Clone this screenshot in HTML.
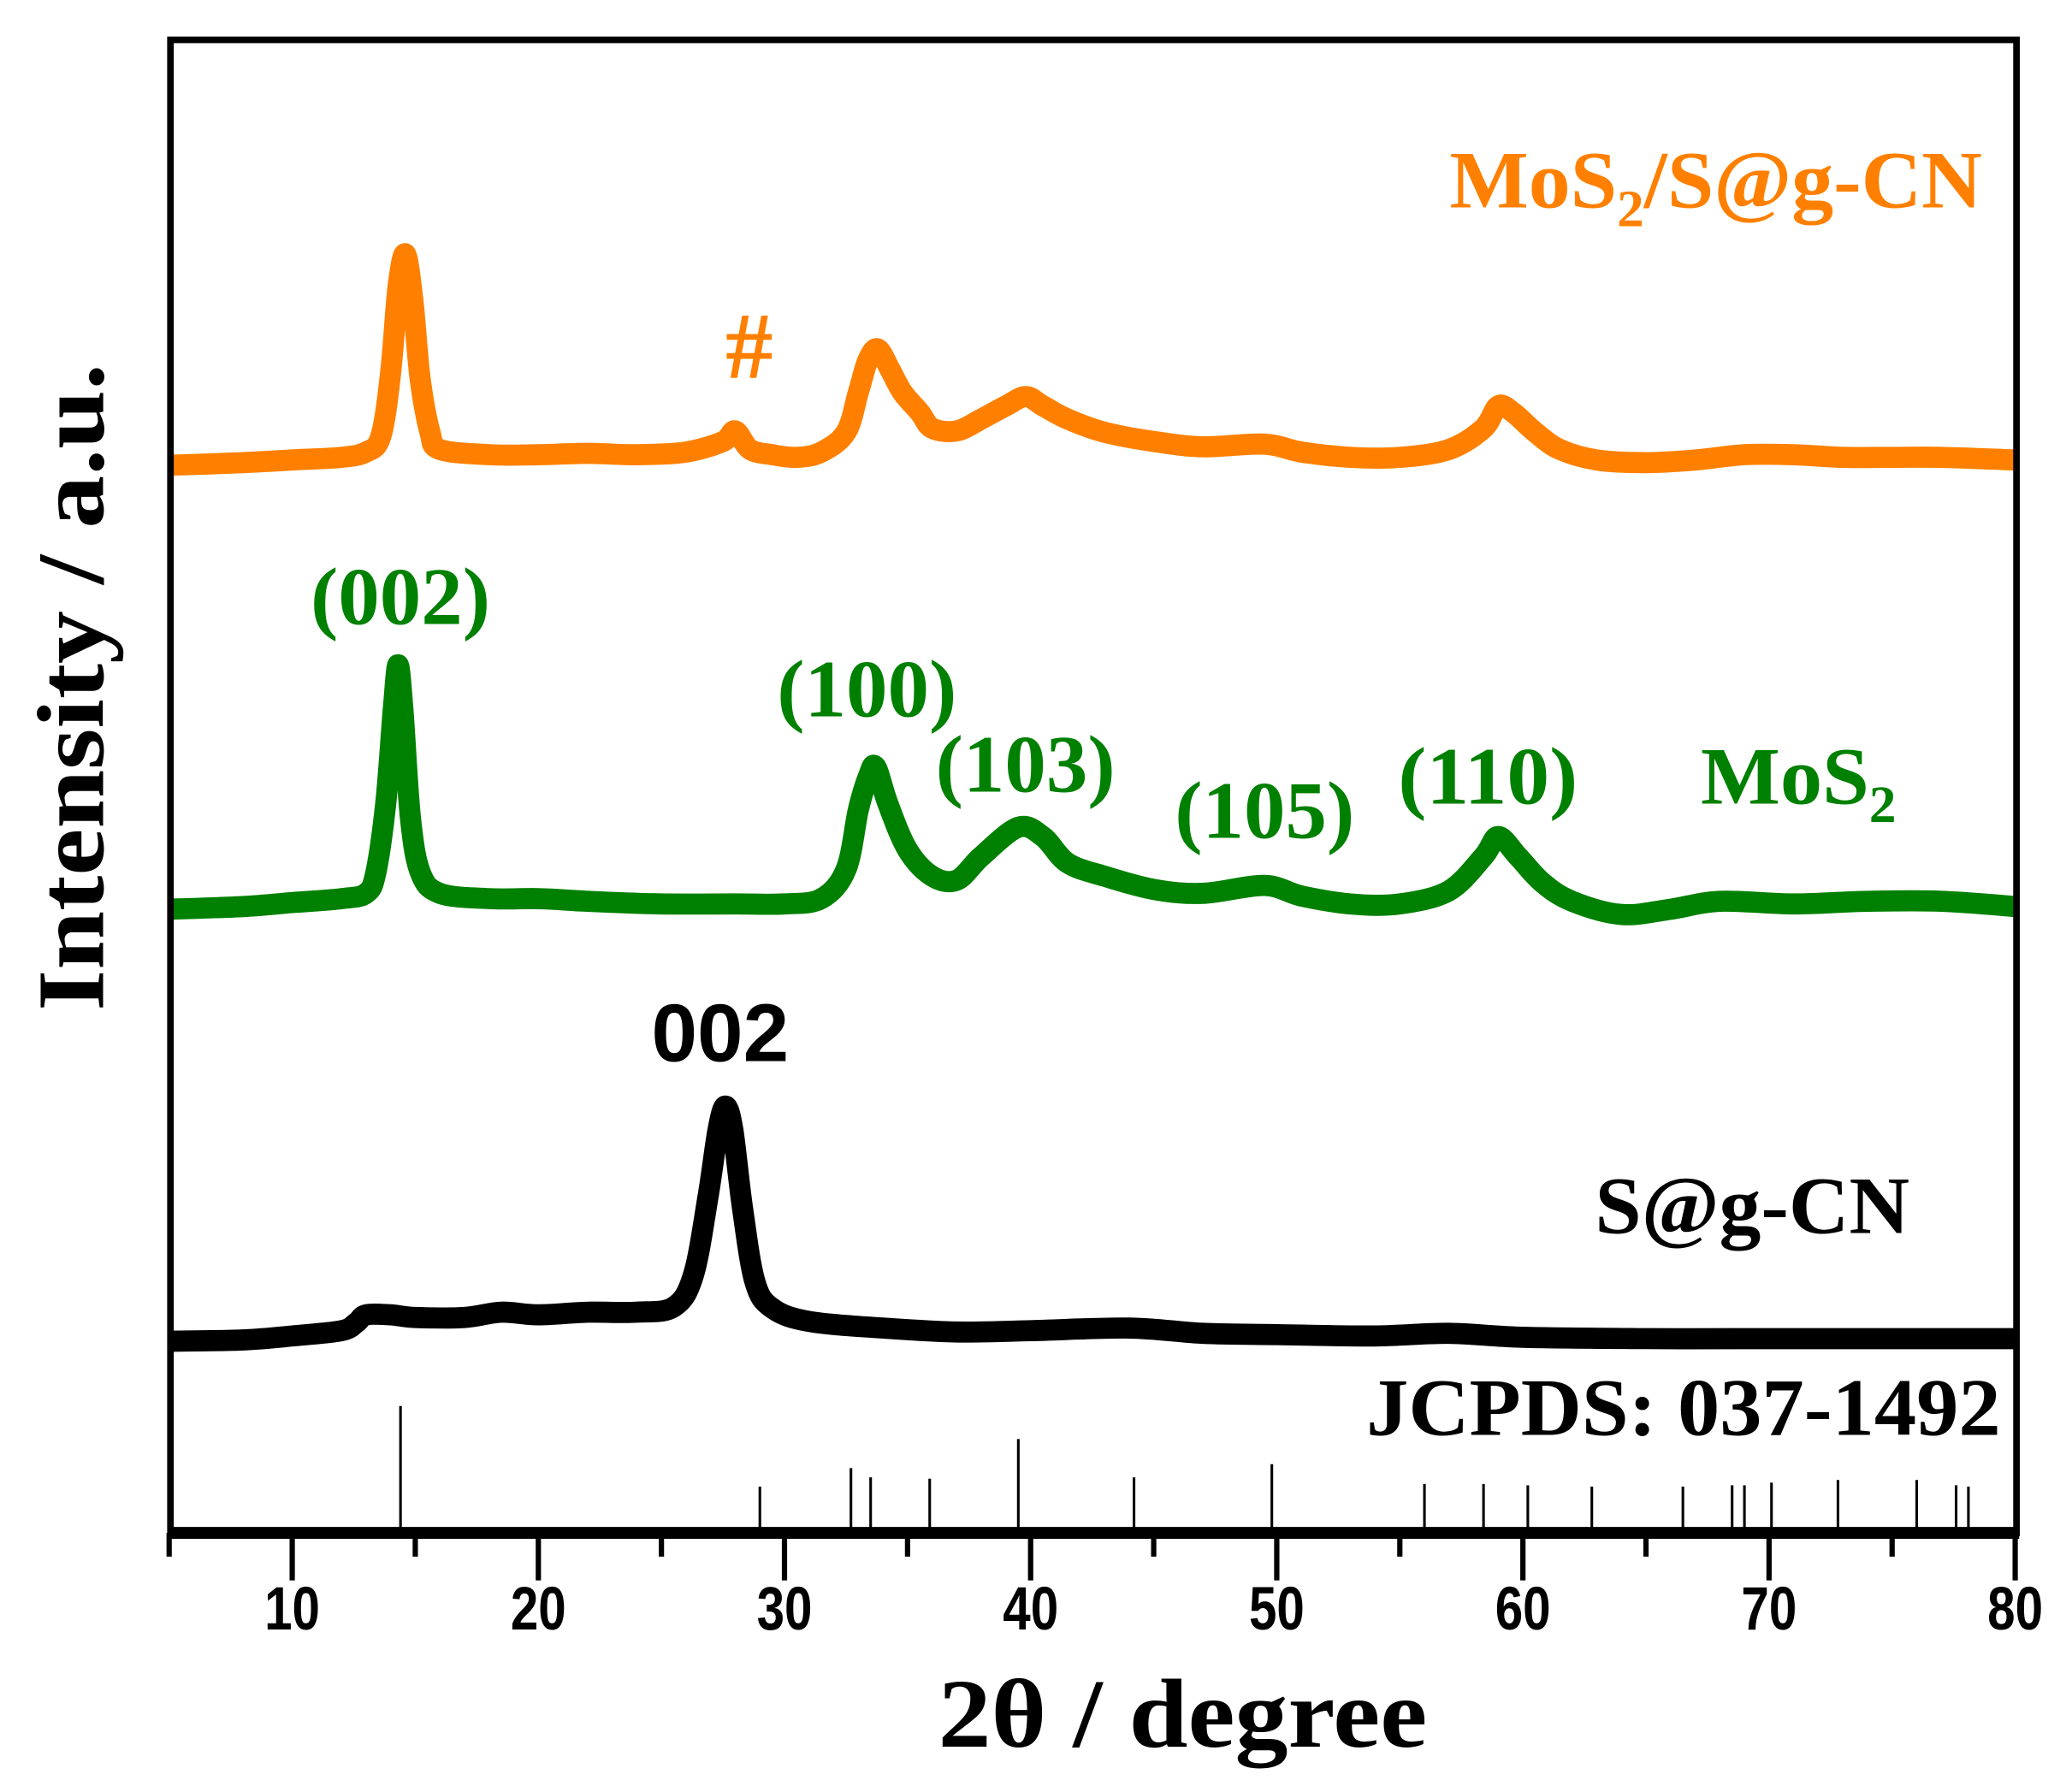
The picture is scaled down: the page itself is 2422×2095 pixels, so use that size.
<!DOCTYPE html>
<html><head><meta charset="utf-8"><style>
html,body{margin:0;padding:0;background:#fff}
svg{display:block}
text{font-family:"Liberation Serif",serif;font-weight:bold}
</style></head><body>
<svg id="chart" width="2422" height="2095" viewBox="0 0 1568 1356" xmlns="http://www.w3.org/2000/svg">
<g id="traces"></g>
<g id="refs"></g>
<rect x="129" y="30" width="1397" height="1130" fill="none" stroke="#000" stroke-width="5"/>
<line x1="127" y1="1160" x2="1528" y2="1160" stroke="#000" stroke-width="9"/>
<g id="xticks"></g>
<text x="895" y="1322" font-size="74" text-anchor="middle" textLength="370" lengthAdjust="spacingAndGlyphs">2θ / degree</text>
<text transform="translate(78,520) rotate(-90)" font-size="72" text-anchor="middle" textLength="490" lengthAdjust="spacingAndGlyphs">Intensity / a.u.</text>
<text x="1097" y="157" font-size="62" fill="#FF8000" textLength="403" lengthAdjust="spacingAndGlyphs">MoS<tspan font-size="40" dy="14">2</tspan><tspan dy="-14">/S@g-CN</tspan></text>
<text x="567" y="286" font-size="72" fill="#FF8000" text-anchor="middle">#</text>
<text x="303" y="472" font-size="62" fill="#008000" text-anchor="middle" textLength="136" lengthAdjust="spacingAndGlyphs">(002)</text>
<text x="656" y="542" font-size="62" fill="#008000" text-anchor="middle" textLength="136" lengthAdjust="spacingAndGlyphs">(100)</text>
<text x="776" y="599" font-size="62" fill="#008000" text-anchor="middle" textLength="136" lengthAdjust="spacingAndGlyphs">(103)</text>
<text x="957" y="634" font-size="62" fill="#008000" text-anchor="middle" textLength="136" lengthAdjust="spacingAndGlyphs">(105)</text>
<text x="1126" y="608" font-size="62" fill="#008000" text-anchor="middle" textLength="136" lengthAdjust="spacingAndGlyphs">(110)</text>
<text x="1287" y="608" font-size="62" fill="#008000" textLength="148" lengthAdjust="spacingAndGlyphs">MoS<tspan font-size="40" dy="14">2</tspan></text>
<text x="545" y="803" font-size="62" text-anchor="middle" style="font-family:'Liberation Sans',sans-serif" textLength="104" lengthAdjust="spacingAndGlyphs">002</text>
<text x="1207" y="933" font-size="62" textLength="238" lengthAdjust="spacingAndGlyphs">S@g-CN</text>
<text x="1034" y="1086" font-size="62" textLength="480" lengthAdjust="spacingAndGlyphs">JCPDS: 037-1492</text>
</svg>
<script>
const orangeX=[5,8,10,12,13,13.6,14.0,14.3,14.6,14.9,15.2,15.6,16,18,20,22,24,26,27.5,28,28.6,29.5,30.5,31.5,32.5,33.0,33.4,33.8,34.3,34.8,35.5,36,37,38,39,39.8,40.5,41.5,43,45,47,49.5,51,53,55,57,58.4,59,59.6,60.5,61.5,63,65,67,69,71,73,75,77,80];
const orangeY=[0,2,4,6,10,22,70,135,160,125,65,25,12,8,8,9,8,10,18,26,12,8,6,10,25,55,80,88,72,55,40,28,26,35,45,52,45,35,25,18,14,16,10,6,6,12,28,45,40,25,12,4,2,4,8,8,6,6,6,4];
const greenX=[5,8,10,12,13,13.4,13.8,14.1,14.3,14.5,14.8,15.2,16,18,20,22,25,28,30,31.5,32.5,33.0,33.4,33.7,34.2,35,36,37,38,39.5,40.5,41.5,43,45,47,49.5,51,53,55,57,58.4,59,59.8,60.8,62,64,66,68,71,74,77,80];
const greenY=[0,2,5,8,12,28,80,150,185,150,70,28,12,8,8,6,4,4,4,8,30,75,100,108,80,45,25,22,40,62,55,35,25,15,12,18,10,4,4,14,40,55,40,20,6,-4,0,6,4,6,6,2];
const blackX=[5,8,10,12,12.6,13,14,15,17,18.5,20,22,24,25.5,26.3,26.9,27.3,27.6,27.9,28.3,28.8,29.5,31,34,37,40,44,47,50,54,57,60,65,70,80];
const blackY=[0,1,4,8,14,20,20,18,18,22,20,22,22,26,50,110,160,178,160,100,45,25,15,10,7,8,10,6,5,4,6,3,2,2,2];
const refPos=[14.4,29,32.7,33.5,35.9,39.5,44.2,49.8,56,58.4,60.2,62.8,66.5,68.5,69,70.1,72.8,76,77.6,78.1];
const refInt=[92,31,45,38,37,67,38,48,33,33,32,31,31,32,32,34,36,36,32,31];
const tickVals=[10,20,30,40,50,60,70,80];
const tickLabels=["10","20","30","40","50","60","70","80"];
const minorVals=[5,15,25,35,45,55,65,75];

const NS="http://www.w3.org/2000/svg";
const xs=v=>128+(v-5)*(1525-128)/75;
function yScale(base){return v=>base-v;}
function drawTrace(X,Y,base,color,name){
  const ys=yScale(base);
  const P=X.map((x,i)=>[xs(x),ys(Y[i])]);
  let d="M"+P[0][0].toFixed(1)+","+P[0][1].toFixed(1);
  for(let i=0;i<P.length-1;i++){
    const p0=P[i-1]||P[i],p1=P[i],p2=P[i+1],p3=P[i+2]||p2;
    const c1=[p1[0]+(p2[0]-p0[0])/6,p1[1]+(p2[1]-p0[1])/6];
    const c2=[p2[0]-(p3[0]-p1[0])/6,p2[1]-(p3[1]-p1[1])/6];
    d+="C"+c1[0].toFixed(1)+","+c1[1].toFixed(1)+" "+c2[0].toFixed(1)+","+c2[1].toFixed(1)+" "+p2[0].toFixed(1)+","+p2[1].toFixed(1);
  }
  const p=document.createElementNS(NS,"path");
  p.setAttribute("d",d);p.setAttribute("fill","none");p.setAttribute("stroke",color);
  p.setAttribute("stroke-width","16");p.setAttribute("stroke-linejoin","round");p.setAttribute("stroke-linecap","butt");
  
  
  document.getElementById("traces").appendChild(p);
}
drawTrace(orangeX,orangeY,352,"#FF8000","trace-mos2-s-gcn");
drawTrace(greenX,greenY,688,"#008000","trace-mos2");
drawTrace(blackX,blackY,1015,"#000","trace-s-gcn");
const refs=document.getElementById("refs");
refPos.forEach((p,i)=>{
  const l=document.createElementNS(NS,"line");
  l.setAttribute("x1",xs(p));l.setAttribute("x2",xs(p));
  l.setAttribute("y1",1156);l.setAttribute("y2",1156-refInt[i]);
  l.setAttribute("stroke","#000");l.setAttribute("stroke-width","2");
  
  
  refs.appendChild(l);
});
const tk=document.getElementById("xticks");
tickVals.forEach((v,i)=>{
  const l=document.createElementNS(NS,"line");
  l.setAttribute("x1",xs(v));l.setAttribute("x2",xs(v));l.setAttribute("y1",1160);l.setAttribute("y2",1196);
  l.setAttribute("stroke","#000");l.setAttribute("stroke-width","4");
  
  
  tk.appendChild(l);
  const t=document.createElementNS(NS,"text");
  t.setAttribute("x",xs(v));t.setAttribute("y",1233);t.setAttribute("text-anchor","middle");
  t.setAttribute("font-size","46");t.setAttribute("style","font-family:'Liberation Sans',sans-serif");
  t.setAttribute("textLength","42");t.setAttribute("lengthAdjust","spacingAndGlyphs");
  t.textContent=tickLabels[i];
  
  
  tk.appendChild(t);
});
minorVals.forEach(v=>{
  const l=document.createElementNS(NS,"line");
  l.setAttribute("x1",xs(v));l.setAttribute("x2",xs(v));l.setAttribute("y1",1160);l.setAttribute("y2",1178);
  l.setAttribute("stroke","#000");l.setAttribute("stroke-width","4");
  
  
  tk.appendChild(l);
});
</script>
</body></html>
